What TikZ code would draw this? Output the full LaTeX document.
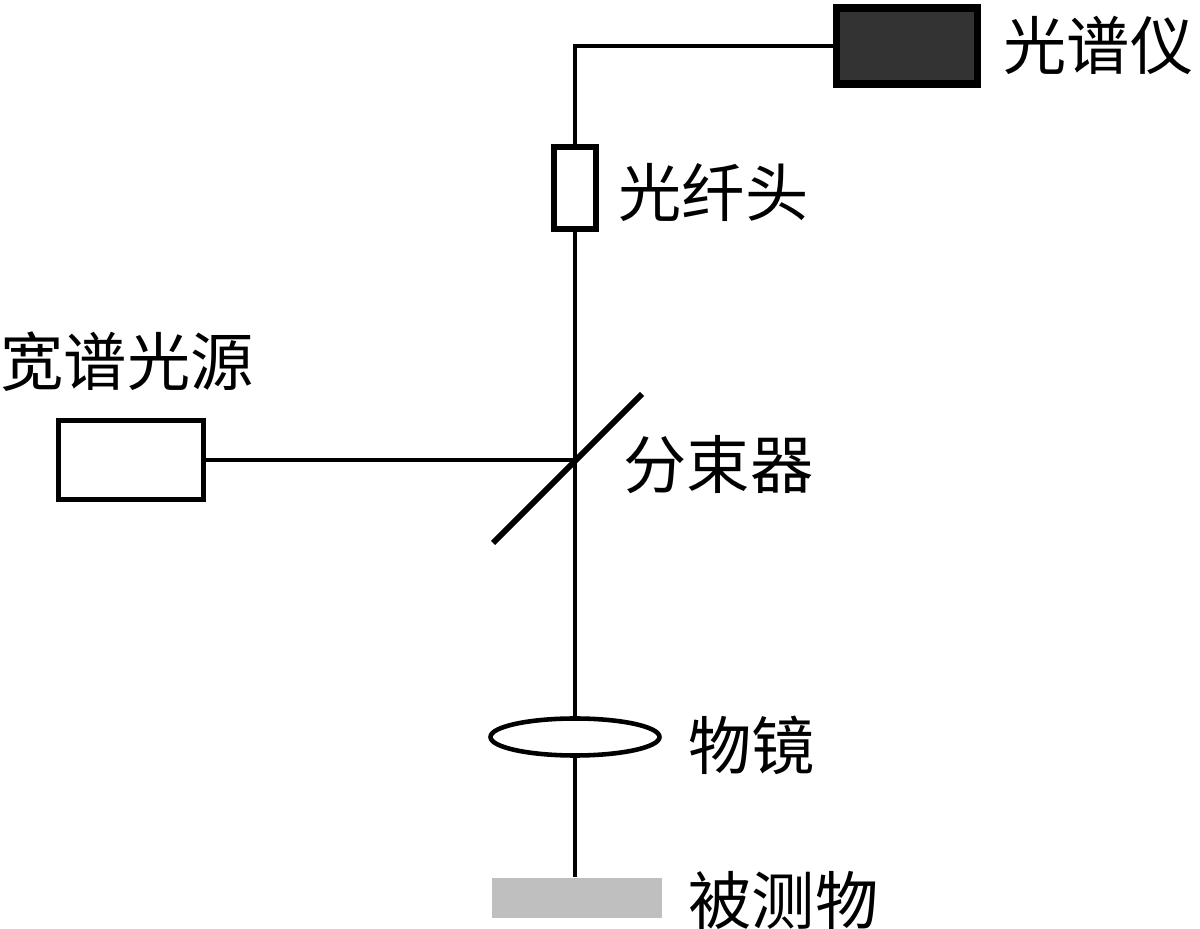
\documentclass[tikz,border=0pt]{standalone}
\usepackage{fontspec}
\newfontfamily\cjk{Noto Sans CJK SC}
\usetikzlibrary{positioning, calc, shapes.geometric}
\tikzset{
  beam/.style={line width=1pt},
  lbl/.style={inner sep=0pt, anchor=west, font=\cjk\fontsize{18}{18}\selectfont},
  box/.style={draw, rectangle, inner sep=0pt, fill=white}
}
\begin{document}
\begin{tikzpicture}
    \useasboundingbox (0,0) rectangle (12,9.29);
    \node[box, line width=2pt, fill=black!80, minimum width=1.41cm, minimum height=0.76cm] (spec) at (9.07,8.83) {};
    \node[box, line width=1.6pt, minimum width=0.42cm, minimum height=0.82cm] (fiber) at (5.75,7.41) {};
    \node[box, line width=1.6pt, minimum width=1.45cm, minimum height=0.79cm] (src) at (1.31,4.69) {};
    \node[draw, ellipse, line width=1.3pt, fill=white, inner sep=0pt, minimum width=1.69cm, minimum height=0.37cm] (lens) at (5.75,1.92) {};
    \node[rectangle, fill=black!25, inner sep=0pt, minimum width=1.70cm, minimum height=0.40cm] (obj) at (5.77,0.31) {};
    \coordinate (bs) at (5.75,4.69);
    \coordinate (corner) at (5.75,8.83);
    % labels
    \node[lbl] (specl) at (10.03,8.84) {光谱仪};
    \node[lbl] (fiberl) at (6.18,7.37) {光纤头};
    \node[lbl] (srcl) at (0,5.67) {宽谱光源};
    \node[lbl] (bsl) at (6.23,4.64) {分束器};
    \node[lbl] (lensl) at (6.88,1.84) {物镜};
    \node[lbl] (objl) at (6.88,0.29) {被测物};
    % optical path
    \draw[beam] (spec.west) -- (corner) -- (fiber.north);
    \draw[beam] (fiber.south) -- (lens.north);
    \draw[beam] (lens.south) -- (lens.south |- obj.north);
    \draw[beam] (src.east) -- (bs);
    % beam splitter
    \draw[line width=1.7pt] ($(bs)+(-0.82,-0.83)$) -- ($(bs)+(0.67,0.66)$);
\end{tikzpicture}
\end{document}
